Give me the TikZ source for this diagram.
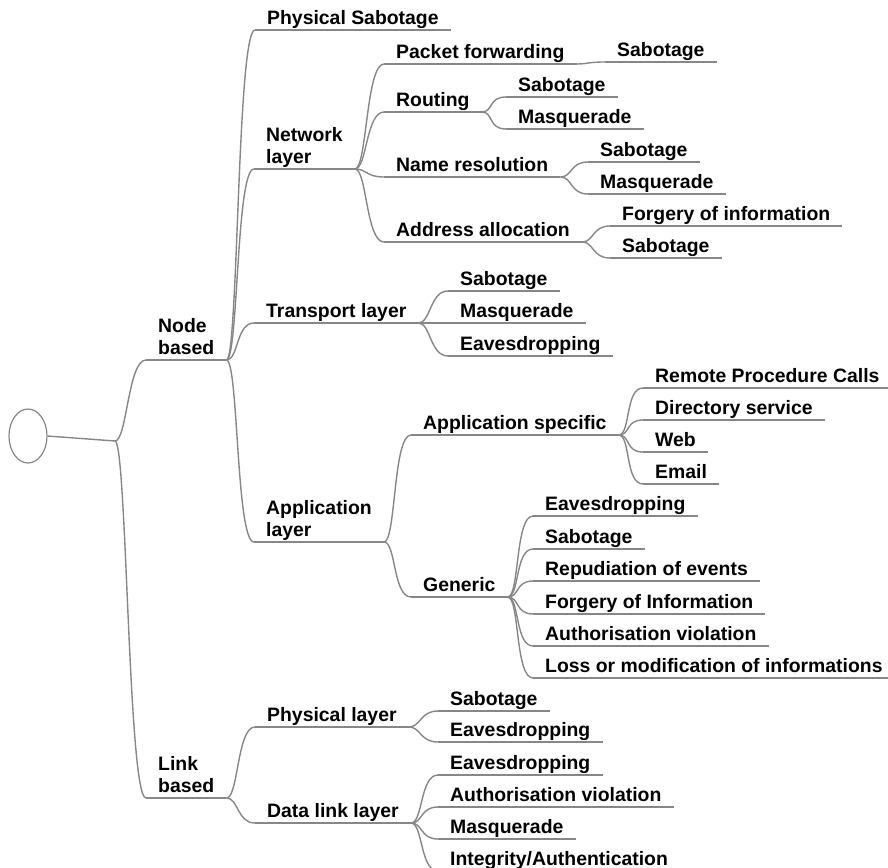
\documentclass[tikz,border=0pt]{standalone}
\usepackage{fontspec}
\setmainfont{Liberation Sans}
\usepackage{tikz}
\usetikzlibrary{shapes}
\definecolor{wiregray}{RGB}{135,135,135}

\begin{document}
\begin{tikzpicture}[x=1pt,y=-1pt,
  wire/.style={draw=wiregray,line width=1.4pt},
  branch/.style={to path={.. controls +(12,0) and +(-18,0) .. (\tikztotarget)}},
  topic/.style={anchor=south west,inner xsep=12pt,inner ysep=5.5pt,text depth=0pt,
    align=left,font=\bfseries\fontsize{19.4}{21.5}\selectfont}]
\useasboundingbox (0,0) rectangle (888,867);

\node (root) at (28,436) [ellipse,draw=wiregray,line width=1.2pt,minimum width=38pt,minimum height=54pt] {};
\coordinate (hub) at (115,441);

\node (nb) at (146,360) [topic] {Node\\based};
\node (lb) at (146,798) [topic] {Link\\based};

% node based
\node (ps) at (255,30)  [topic] {Physical Sabotage};
\node (nl) at (254,169) [topic] {Network\\layer};
\node (tl) at (254,323) [topic] {Transport layer};
\node (al) at (254,542) [topic] {Application\\layer};

\node (pf) at (384,64)  [topic] {Packet forwarding};
\node (ro) at (384,112) [topic] {Routing};
\node (nr) at (384,177) [topic] {Name resolution};
\node (aa) at (384,242) [topic] {Address allocation};

\node (pf1) at (605,62)  [topic] {Sabotage};
\node (ro1) at (506,97)  [topic] {Sabotage};
\node (ro2) at (506,129) [topic] {Masquerade};
\node (nr1) at (588,162) [topic] {Sabotage};
\node (nr2) at (588,194) [topic] {Masquerade};
\node (aa1) at (610,226) [topic] {Forgery of information};
\node (aa2) at (610,258) [topic] {Sabotage};

\node (tl1) at (448,291) [topic] {Sabotage};
\node (tl2) at (448,323) [topic] {Masquerade};
\node (tl3) at (448,356) [topic] {Eavesdropping};

\node (as) at (411,435) [topic] {Application specific};
\node (ge) at (411,597) [topic] {Generic};

\node (as1) at (643,388) [topic] {Remote Procedure Calls};
\node (as2) at (643,420) [topic] {Directory service};
\node (as3) at (643,452) [topic] {Web};
\node (as4) at (643,484) [topic] {Email};

\node (ge1) at (533,516) [topic] {Eavesdropping};
\node (ge2) at (533,549) [topic] {Sabotage};
\node (ge3) at (533,581) [topic] {Repudiation of events};
\node (ge4) at (533,614) [topic] {Forgery of Information};
\node (ge5) at (533,646) [topic] {Authorisation violation};
\node (ge6) at (533,678) [topic] {Loss or modification of informations};

% link based
\node (pl) at (255,727) [topic] {Physical layer};
\node (dl) at (255,823) [topic] {Data link layer};

\node (pl1) at (438,711) [topic] {Sabotage};
\node (pl2) at (438,742) [topic] {Eavesdropping};
\node (dl1) at (438,775) [topic] {Eavesdropping};
\node (dl2) at (438,807) [topic] {Authorisation violation};
\node (dl3) at (438,839) [topic] {Masquerade};
\node (dl4) at (438,871) [topic] {Integrity/Authentication};

\draw[wire] (root.east) -- (hub);
\draw[wire] (hub) to[branch] (nb.south west);
\draw[wire] (hub) to[branch] (lb.south west);

\foreach \n in {nb,lb,ps,nl,tl,al,pf,ro,nr,aa,pf1,ro1,ro2,nr1,nr2,aa1,aa2,tl1,tl2,tl3,
  as,ge,as1,as2,as3,as4,ge1,ge2,ge3,ge4,ge5,ge6,pl,dl,pl1,pl2,dl1,dl2,dl3,dl4}
  \draw[wire] (\n.south west) -- (\n.south east);

\foreach \p/\c in {nb/ps,nb/nl,nb/tl,nb/al,nl/pf,nl/ro,nl/nr,nl/aa,pf/pf1,ro/ro1,ro/ro2,
  nr/nr1,nr/nr2,aa/aa1,aa/aa2,tl/tl1,tl/tl2,tl/tl3,al/as,al/ge,as/as1,as/as2,as/as3,as/as4,
  ge/ge1,ge/ge2,ge/ge3,ge/ge4,ge/ge5,ge/ge6,lb/pl,lb/dl,pl/pl1,pl/pl2,dl/dl1,dl/dl2,dl/dl3,dl/dl4}
  \draw[wire] (\p.south east) to[branch] (\c.south west);
\end{tikzpicture}
\end{document}
